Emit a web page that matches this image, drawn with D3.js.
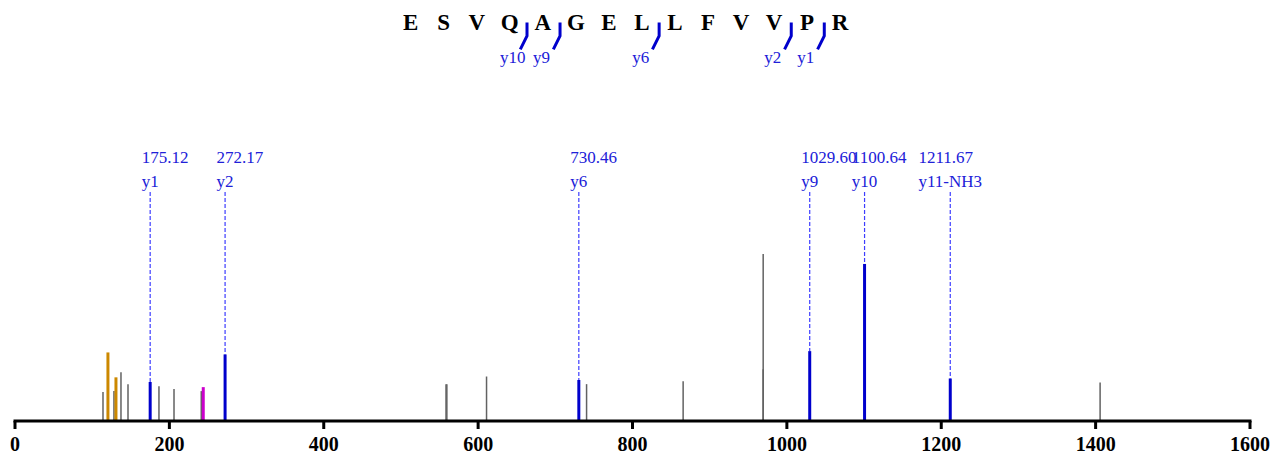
<!DOCTYPE html>
<html>
<head>
<meta charset="utf-8">
<script src="https://cdn.jsdelivr.net/npm/d3@7"></script>
<style>
  html, body { margin: 0; padding: 0; background: #fff; }
  svg { display: block; }
</style>
</head>
<body>
<svg id="chart" width="1281" height="457"></svg>
<script>
// ---- data ----
const xTicks = [0, 200, 400, 600, 800, 1000, 1200, 1400, 1600];
const residues = ["E","S","V","Q","A","G","E","L","L","F","V","V","P","R"];
const seqIonLabels = ["y10","y9","y6","y2","y1"];
const seqIonNumbers = [10, 9, 6, 2, 1];

const annMz = [175.12, 272.17, 730.46, 1029.60, 1100.64, 1211.67];
const annMzText = ["175.12", "272.17", "730.46", "1029.60", "1100.64", "1211.67"];
const annLabels = ["y1", "y2", "y6", "y9", "y10", "y11-NH3"];
const annIntensity = [22.9, 39.5, 24.1, 41.5, 94, 25];

const grayMz = [114.0, 128.2, 137.3, 146.4, 186.5, 206.0, 241.3, 558.4, 559.5, 610.9, 740.5, 865.6, 969.3, 969.3, 1405.8];
const grayIntensity = [16.8, 17.4, 28.7, 21.6, 20.4, 18.6, 17.4, 21.6, 21.6, 26.2, 21.6, 23.3, 100, 30.5, 22.6];

const orangeMz = [120.4, 130.8];
const orangeIntensity = [40.7, 25.7];

const magentaMz = [243.9];
const magentaIntensity = [19.8];

// ---- drawing ----
const svg = d3.select("#chart");
const serif = "'Liberation Serif', 'Times New Roman', serif";
const blue = "#0000cc";
const labelBlue = "#2020d8";

const x = d3.scaleLinear().domain([0, 1600]).range([15, 1250]);
const y = d3.scaleLinear().domain([0, 100]).range([420, 254]);

// peaks
function drawPeaks(mz, inten, color, width, cls) {
  svg.append("g").attr("class", cls)
    .selectAll("line").data(mz).join("line")
    .attr("x1", d => x(d)).attr("x2", d => x(d))
    .attr("y1", y(0))
    .attr("y2", (d, i) => y(inten[i]))
    .attr("stroke", color)
    .attr("stroke-width", width);
}
drawPeaks(grayMz, grayIntensity, "#626262", 1.5, "gray-peaks");
drawPeaks(orangeMz, orangeIntensity, "#cc8800", 3, "orange-peaks");
drawPeaks(magentaMz, magentaIntensity, "#cc00cc", 3, "magenta-peaks");

// annotated peaks: labels + dashed lines
const ann = svg.append("g").attr("class", "annotated");
annMz.forEach((mz, i) => {
  const px = x(mz);
  const g = ann.append("g");
  const ion = g.append("text")
    .attr("y", 187)
    .attr("font-family", serif).attr("font-size", 17)
    .attr("fill", labelBlue)
    .text(annLabels[i]);
  const w = ion.node().getComputedTextLength();
  const left = px - w / 2;
  ion.attr("x", left);
  g.append("text")
    .attr("x", left).attr("y", 163)
    .attr("font-family", serif).attr("font-size", 17)
    .attr("fill", labelBlue)
    .text(annMzText[i]);
  g.append("line")
    .attr("x1", px).attr("x2", px)
    .attr("y1", 192).attr("y2", y(annIntensity[i]))
    .attr("stroke", "#3d3dff").attr("stroke-width", 1.2)
    .attr("stroke-dasharray", "4,2");
  g.append("line")
    .attr("x1", px).attr("x2", px)
    .attr("y1", y(0)).attr("y2", y(annIntensity[i]))
    .attr("stroke", blue).attr("stroke-width", 3);
});

// axis
const axisG = svg.append("g").attr("transform", "translate(0,421)");
axisG.append("line")
  .attr("x1", x(0) - 1.5).attr("x2", x(1600) + 1.5)
  .attr("stroke", "#000").attr("stroke-width", 3);
axisG.selectAll("line.tick").data(xTicks).join("line").attr("class", "tick")
  .attr("x1", d => x(d)).attr("x2", d => x(d))
  .attr("y1", 0).attr("y2", 8)
  .attr("stroke", "#000").attr("stroke-width", 3);
axisG.selectAll("text").data(xTicks).join("text")
  .attr("x", d => x(d)).attr("y", 30)
  .attr("text-anchor", "middle")
  .attr("font-family", serif).attr("font-size", 20).attr("font-weight", "bold")
  .attr("fill", "#000")
  .text(d => d);

// sequence
const seqX = d3.scaleLinear().domain([0, residues.length - 1]).range([410.7, 840.1]);
svg.append("g").selectAll("text").data(residues).join("text")
  .attr("x", (d, i) => seqX(i)).attr("y", 29.5)
  .attr("text-anchor", "middle")
  .attr("font-family", serif).attr("font-size", 23).attr("font-weight", "bold")
  .attr("fill", "#000")
  .text(d => d);

const markers = svg.append("g");
seqIonNumbers.forEach((n, i) => {
  const pos = residues.length - n - 0.5;
  const mx = seqX(pos) + 0.7;
  markers.append("path")
    .attr("d", `M${mx},22.5 L${mx},36 L${mx - 6.7},49.3`)
    .attr("fill", "none").attr("stroke", blue).attr("stroke-width", 3);
  markers.append("text")
    .attr("x", mx - 27).attr("y", 63)
    .attr("font-family", serif).attr("font-size", 17)
    .attr("fill", labelBlue)
    .text(seqIonLabels[i]);
});
</script>
</body>
</html>
